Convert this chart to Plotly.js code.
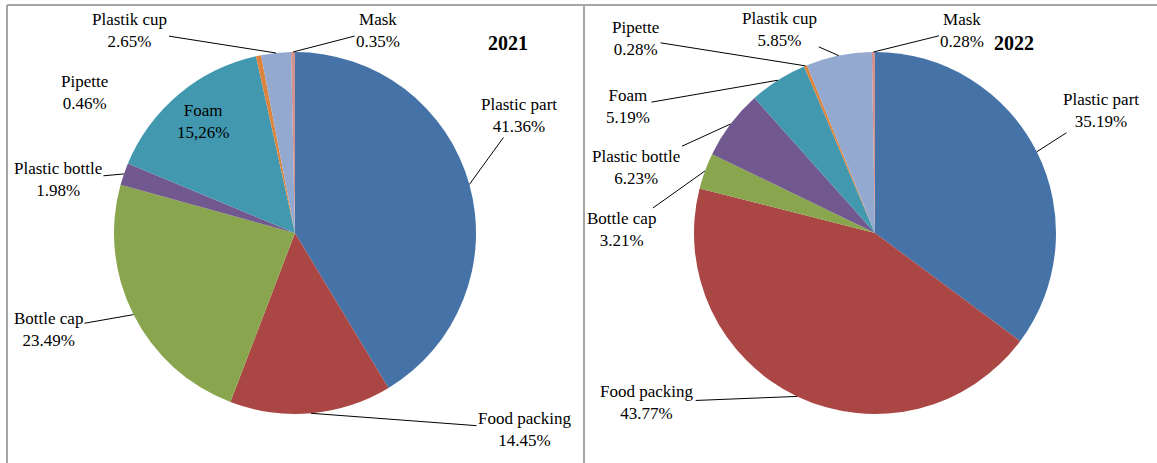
<!DOCTYPE html>
<html>
<head>
<meta charset="utf-8">
<script src="https://cdn.plot.ly/plotly-3.0.1.min.js"></script>
<style>
  html, body { margin: 0; padding: 0; background: #fff; }
  #chart { width: 1157px; height: 463px; }
</style>
</head>
<body>
<div id="chart"></div>
<script>
// ---- Data ----
const categories = ['Plastic part', 'Food packing', 'Bottle cap', 'Plastic bottle', 'Foam', 'Pipette', 'Plastik cup', 'Mask'];
const values2021 = [41.36, 14.45, 23.49, 1.98, 15.26, 0.46, 2.65, 0.35];
const values2022 = [35.19, 43.77, 3.21, 6.23, 5.19, 0.28, 5.85, 0.28];
const years = ['2021', '2022'];
const decimalMark2021 = ['.', '.', '.', '.', ',', '.', '.', '.'];
const decimalMark2022 = ['.', '.', '.', '.', '.', '.', '.', '.'];

// ---- Styles / layout config ----
const sliceColors = ['#4572A7', '#AA4643', '#89A54E', '#71588F', '#4198AF', '#DB843D', '#93A9CF', '#D19392'];
const W = 1157, H = 463;
const pies = [
  { cx: 295, cy: 233, r: 181 },
  { cx: 875, cy: 233, r: 181 }
];
// label text offsets (px) from the slice's outer-edge midpoint, and whether a leader line is drawn
const labelOffsets2021 = [[50, -69], [214, 16], [-85, 15], [-66, 6], [24, 27], [-174, 37], [-146, -23], [85, -22]];
const leader2021 = [true, true, true, true, false, false, true, true];
const labelOffsets2022 = [[64, -41], [-150, 6], [-83, 59], [-94, 43], [-150, 26], [-170, -27], [-59, -26], [89, -22]];
const leader2022 = [true, true, true, true, true, true, true, true];
const yearTitlePos = [[508, 43], [1014, 43]];
const FONT = "'Liberation Serif', 'Times New Roman', serif";

function fmt(v, mark) {
  return v.toFixed(2).replace('.', mark) + '%';
}

function pieTrace(values, geo) {
  return {
    type: 'pie',
    labels: categories,
    values: values,
    sort: false,
    direction: 'clockwise',
    rotation: 0,
    textinfo: 'none',
    hoverinfo: 'label+percent',
    marker: { colors: sliceColors, line: { width: 0 } },
    showlegend: false,
    domain: {
      x: [(geo.cx - geo.r) / W, (geo.cx + geo.r) / W],
      y: [(H - geo.cy - geo.r) / H, (H - geo.cy + geo.r) / H]
    }
  };
}

function labelAnnotations(values, geo, offsets, leaders, marks) {
  const total = values.reduce((a, b) => a + b, 0);
  let cum = 0;
  const out = [];
  values.forEach((v, i) => {
    const midFrac = (cum + v / 2) / total;
    cum += v;
    const ang = midFrac * 2 * Math.PI;
    const px = geo.cx + geo.r * Math.sin(ang);
    const py = geo.cy - geo.r * Math.cos(ang);
    const [dx, dy] = offsets[i];
    const text = categories[i] + '<br>' + fmt(v, marks[i]);
    const base = {
      xref: 'paper', yref: 'paper',
      x: px / W, y: (H - py) / H,
      xanchor: 'center', yanchor: 'middle',
      text: text,
      font: { family: FONT, size: 17, color: '#000' },
      align: 'center'
    };
    if (leaders[i]) {
      Object.assign(base, {
        showarrow: true, arrowhead: 0, arrowwidth: 1, arrowcolor: '#000',
        ax: dx, ay: dy, standoff: 0, startstandoff: 0
      });
    } else {
      Object.assign(base, { showarrow: false, xshift: dx, yshift: -dy });
    }
    out.push(base);
  });
  return out;
}

const data = [pieTrace(values2021, pies[0]), pieTrace(values2022, pies[1])];

const annotations = []
  .concat(labelAnnotations(values2021, pies[0], labelOffsets2021, leader2021, decimalMark2021))
  .concat(labelAnnotations(values2022, pies[1], labelOffsets2022, leader2022, decimalMark2022));

years.forEach((yr, i) => {
  annotations.push({
    xref: 'paper', yref: 'paper',
    x: yearTitlePos[i][0] / W, y: (H - yearTitlePos[i][1]) / H,
    xanchor: 'center', yanchor: 'middle',
    text: '<b>' + yr + '</b>', showarrow: false,
    font: { family: FONT, size: 20, color: '#000' }
  });
});

const borderColor = '#a6a6a6';
const shapes = [
  { type: 'line', xref: 'paper', yref: 'paper', x0: 7 / W, x1: 1, y0: (H - 5) / H, y1: (H - 5) / H, line: { color: borderColor, width: 2 } },
  { type: 'line', xref: 'paper', yref: 'paper', x0: 7 / W, x1: 7 / W, y0: 0, y1: (H - 5) / H, line: { color: borderColor, width: 2 } },
  { type: 'line', xref: 'paper', yref: 'paper', x0: 584 / W, x1: 584 / W, y0: 0, y1: (H - 5) / H, line: { color: borderColor, width: 2 } }
];

const layout = {
  width: W, height: H,
  margin: { l: 0, r: 0, t: 0, b: 0 },
  paper_bgcolor: '#fff',
  plot_bgcolor: '#fff',
  showlegend: false,
  annotations: annotations,
  shapes: shapes,
  font: { family: FONT }
};

Plotly.newPlot('chart', data, layout, { displayModeBar: false, staticPlot: true });
</script>
</body>
</html>
